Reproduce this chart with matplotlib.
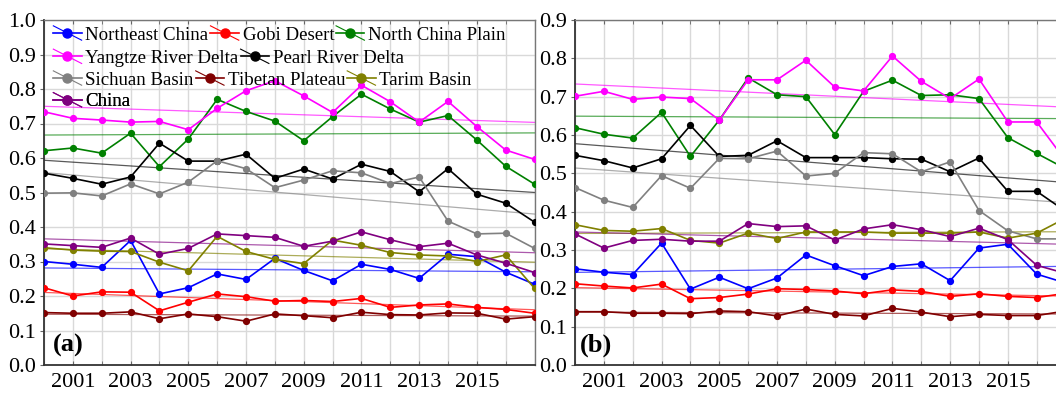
import matplotlib
matplotlib.use('Agg')
import matplotlib.pyplot as plt
from matplotlib.lines import Line2D
from matplotlib.legend_handler import HandlerBase
import numpy as np

plt.rcParams['font.family'] = ['Liberation Serif', 'DejaVu Serif']

years = np.arange(2000, 2018)
label_years = [2001, 2003, 2005, 2007, 2009, 2011, 2013, 2015]

regions = ['Northeast China', 'Gobi Desert', 'North China Plain',
           'Yangtze River Delta', 'Pearl River Delta',
           'Sichuan Basin', 'Tibetan Plateau', 'Tarim Basin', 'China']
colors = ['#0000ff', '#ff0000', '#008000', '#ff00ff', '#000000',
          '#808080', '#800000', '#808000', '#800080']
# legend rows as they appear in panel (a)
legend_rows = [[0, 1, 2], [3, 4], [5, 6, 7], [8]]

# panel (a)
ne_a = [0.300, 0.292, 0.283, 0.361, 0.206, 0.224, 0.264, 0.248, 0.309, 0.274,
        0.244, 0.292, 0.277, 0.251, 0.321, 0.314, 0.269, 0.234]
gobi_a = [0.224, 0.200, 0.212, 0.211, 0.157, 0.182, 0.206, 0.198, 0.185, 0.187,
          0.184, 0.193, 0.167, 0.174, 0.177, 0.167, 0.161, 0.150]
ncp_a = [0.621, 0.629, 0.614, 0.672, 0.575, 0.655, 0.770, 0.735, 0.707, 0.650,
         0.720, 0.785, 0.742, 0.704, 0.723, 0.652, 0.576, 0.524]
yrd_a = [0.734, 0.715, 0.710, 0.704, 0.706, 0.682, 0.744, 0.795, 0.824, 0.780,
         0.732, 0.811, 0.763, 0.704, 0.764, 0.691, 0.623, 0.596]
prd_a = [0.556, 0.541, 0.524, 0.545, 0.643, 0.591, 0.591, 0.611, 0.541, 0.568,
         0.539, 0.582, 0.561, 0.502, 0.569, 0.495, 0.469, 0.414]
scb_a = [0.498, 0.499, 0.490, 0.525, 0.496, 0.530, 0.592, 0.569, 0.514, 0.536,
         0.563, 0.557, 0.526, 0.545, 0.417, 0.380, 0.382, 0.338]
tib_a = [0.152, 0.150, 0.150, 0.154, 0.134, 0.148, 0.140, 0.127, 0.148, 0.143,
         0.137, 0.153, 0.146, 0.145, 0.151, 0.150, 0.133, 0.140]
tar_a = [0.340, 0.333, 0.330, 0.329, 0.298, 0.273, 0.373, 0.329, 0.306, 0.294,
         0.362, 0.347, 0.326, 0.319, 0.316, 0.300, 0.319, 0.222]
chn_a = [0.351, 0.346, 0.341, 0.368, 0.321, 0.338, 0.380, 0.375, 0.370, 0.344,
         0.359, 0.386, 0.363, 0.343, 0.353, 0.319, 0.295, 0.268]

# panel (b)
ne_b = [0.251, 0.242, 0.236, 0.318, 0.198, 0.229, 0.199, 0.227, 0.287, 0.259,
        0.233, 0.257, 0.264, 0.220, 0.305, 0.315, 0.237, 0.214]
gobi_b = [0.212, 0.206, 0.201, 0.211, 0.173, 0.176, 0.185, 0.199, 0.197, 0.193,
          0.186, 0.196, 0.192, 0.179, 0.186, 0.179, 0.176, 0.187]
ncp_b = [0.619, 0.602, 0.592, 0.659, 0.544, 0.639, 0.749, 0.705, 0.700, 0.601,
         0.714, 0.743, 0.703, 0.705, 0.695, 0.593, 0.552, 0.512]
yrd_b = [0.701, 0.714, 0.693, 0.699, 0.695, 0.639, 0.744, 0.744, 0.795, 0.725,
         0.715, 0.806, 0.740, 0.695, 0.746, 0.634, 0.634, 0.533]
prd_b = [0.547, 0.533, 0.514, 0.538, 0.625, 0.544, 0.547, 0.585, 0.541, 0.541,
         0.541, 0.538, 0.537, 0.504, 0.540, 0.453, 0.453, 0.401]
scb_b = [0.463, 0.430, 0.411, 0.494, 0.461, 0.539, 0.538, 0.558, 0.493, 0.500,
         0.554, 0.551, 0.504, 0.530, 0.403, 0.350, 0.329, 0.329]
tib_b = [0.139, 0.139, 0.135, 0.135, 0.134, 0.141, 0.139, 0.128, 0.146, 0.132,
         0.128, 0.148, 0.138, 0.126, 0.132, 0.129, 0.129, 0.141]
tar_b = [0.366, 0.351, 0.349, 0.356, 0.325, 0.318, 0.344, 0.330, 0.347, 0.347,
         0.347, 0.344, 0.344, 0.344, 0.347, 0.331, 0.344, 0.383]
chn_b = [0.342, 0.305, 0.325, 0.328, 0.323, 0.323, 0.369, 0.361, 0.363, 0.326,
         0.355, 0.366, 0.353, 0.335, 0.357, 0.327, 0.260, 0.239]

series_a = [ne_a, gobi_a, ncp_a, yrd_a, prd_a, scb_a, tib_a, tar_a, chn_a]
series_b = [ne_b, gobi_b, ncp_b, yrd_b, prd_b, scb_b, tib_b, tar_b, chn_b]


class TrendHandler(HandlerBase):
    # line + marker with a diagonal stroke through it, like the original legend
    def create_artists(self, legend, orig_handle, xdescent, ydescent,
                       width, height, fontsize, trans):
        c = orig_handle.get_color()
        x0, x1 = -xdescent, width - xdescent
        ym = height / 2 - ydescent
        d = 0.38 * fontsize
        diag = Line2D([x0, x1], [ym + d, ym - d], color=c, lw=0.8)
        line = Line2D([x0, x1], [ym, ym], color=c, lw=1.2)
        mark = Line2D([(x0 + x1) / 2], [ym], color=c, marker='o', ms=6.5, ls='none')
        for a in (diag, line, mark):
            a.set_transform(trans)
        return [diag, line, mark]


def draw_panel(ax, series, ymax, tag, tag_x):
    for vals, c in zip(series, colors):
        vals = np.array(vals)
        k, b = np.polyfit(years, vals, 1)
        ax.plot(years, k * years + b, color=c, lw=0.9, alpha=0.65, zorder=2)
    for vals, c in zip(series, colors):
        ax.plot(years, vals, color=c, lw=1.2, marker='o', ms=4.2, zorder=3)

    ax.set_xlim(2000, 2017)
    ax.set_ylim(0, ymax)
    ax.set_xticks(label_years)
    ax.set_xticklabels([str(y) for y in label_years])
    ax.set_xticks([y for y in years if y not in label_years], minor=True)
    yt = np.round(np.arange(0, ymax + 0.001, 0.1), 1)
    ax.set_yticks(yt)
    ax.set_yticklabels(['%.1f' % v for v in yt])
    ax.grid(True, which='both', color='#d9d9d9', lw=1.0, zorder=0)
    ax.set_axisbelow(True)
    ax.tick_params(axis='x', which='both', direction='in', length=3, pad=6,
                   labelsize=16, top=True, color='#666666')
    ax.tick_params(axis='y', direction='out', length=3, pad=2.5, labelsize=16,
                   color='#666666')
    for side in ['left', 'bottom']:
        ax.spines[side].set_color('#333333')
        ax.spines[side].set_linewidth(1.3)
    for side in ['top', 'right']:
        ax.spines[side].set_color('#777777')
        ax.spines[side].set_linewidth(1.0)
    ax.text(tag_x, 0.058, tag, transform=ax.transAxes, fontsize=19,
            fontweight='bold', ha='left', va='center')


fig = plt.figure(figsize=(10.56, 3.93), dpi=100)
axw = 490.6 / 1056
axh = 345 / 393
bot = 28 / 393
ax1 = fig.add_axes([44 / 1056, bot, axw, axh])
ax2 = fig.add_axes([575 / 1056, bot, axw, axh])

draw_panel(ax1, series_a, 1.0, '(a)', 0.018)
draw_panel(ax2, series_b, 0.9, '(b)', 0.009)

# legend in panel (a), one row per legend
proxies = [Line2D([], [], color=c) for c in colors]
row_y = [0.9565, 0.889, 0.826, 0.763]
for row, yc in zip(legend_rows, row_y):
    leg = ax1.legend([proxies[i] for i in row], [regions[i] for i in row],
                     handler_map={Line2D: TrendHandler()},
                     loc='center left', bbox_to_anchor=(0.019, yc),
                     ncol=len(row), frameon=False, fontsize=13.6,
                     borderpad=0, borderaxespad=0, handlelength=1.5,
                     handletextpad=0.2, columnspacing=0.1)
    ax1.add_artist(leg)

fig.savefig('out.png', dpi=100)
